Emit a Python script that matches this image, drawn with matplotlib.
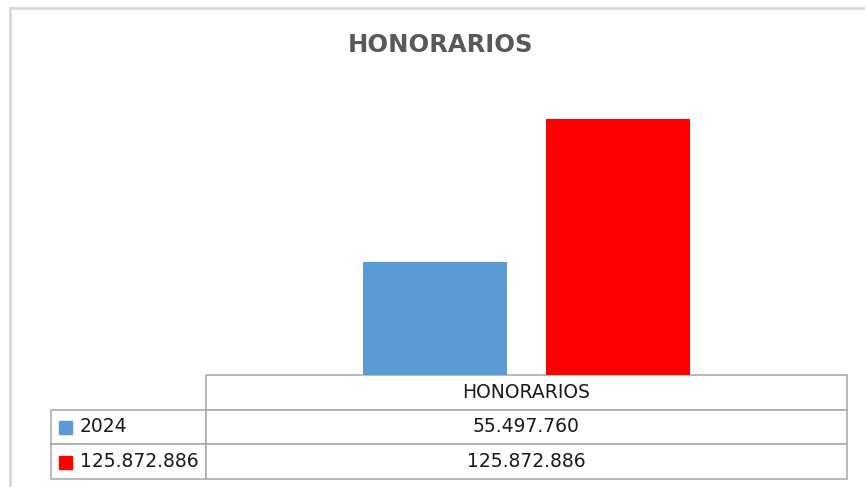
import matplotlib
matplotlib.use('Agg')
import matplotlib.pyplot as plt
from matplotlib.table import Table
from matplotlib.patches import Rectangle
from matplotlib.lines import Line2D

# chart data
category = 'HONORARIOS'
series_names = ['2024', '125.872.886']
values = [55497760, 125872886]
value_labels = ['55.497.760', '125.872.886']
colors = ['#5B9BD5', '#FF0000']

W, H = 865, 487
fig = plt.figure(figsize=(W / 100, H / 100), dpi=100)

# plot area in pixels: x 206..847, baseline at y=375
y_max = 140000000
ax_top = 375 - 256 * y_max / 125872886
ax = fig.add_axes([206 / W, (H - 375) / H, 641 / W, (375 - ax_top) / H])

offsets = [-0.1425, 0.1425]
for i in range(len(values)):
    ax.bar(offsets[i], values[i], width=0.225, color=colors[i])
ax.set_xlim(-0.5, 0.5)
ax.set_ylim(0, y_max)
ax.axis('off')

# data table under the bars
bh = 104 / (375 - ax_top)
tab = Table(ax, bbox=[-155 / 641, -bh, 796 / 641, bh])
w_lab = 155 / 796
w_dat = 641 / 796
edge = '#a6a6a6'

c = tab.add_cell(0, 0, w_lab, 1 / 3, text='')
c.visible_edges = ''
c = tab.add_cell(0, 1, w_dat, 1 / 3, text=category, loc='center')
c.set_edgecolor(edge)
for r in range(len(series_names)):
    c = tab.add_cell(r + 1, 0, w_lab, 1 / 3, text=series_names[r], loc='left')
    c.PAD = 29 / 155
    c.set_edgecolor(edge)
    c = tab.add_cell(r + 1, 1, w_dat, 1 / 3, text=value_labels[r], loc='center')
    c.set_edgecolor(edge)
tab.auto_set_font_size(False)
for key, cell in tab.get_celld().items():
    cell.get_text().set_fontsize(13.5)
    cell.get_text().set_color('#1a1a1a')
    cell.set_linewidth(1.1)
ax.add_table(tab)

# legend keys in the row labels
row_y = [427.5, 462]
for i in range(len(series_names)):
    fig.add_artist(Rectangle((59 / W, (H - row_y[i] - 6.5) / H), 13 / W, 13 / H,
                             transform=fig.transFigure, color=colors[i]))

# title
fig.text(441 / W, (H - 45.5) / H, 'HONORARIOS', ha='center', va='center',
         fontsize=17.5, fontweight='bold', color='#595959')

# chart frame (cut off right and bottom)
fig.add_artist(Line2D([10 / W, 1], [(H - 7.5) / H, (H - 7.5) / H],
                      transform=fig.transFigure, color='#d9d9d9', lw=2))
fig.add_artist(Line2D([10 / W, 10 / W], [0, (H - 7.5) / H],
                      transform=fig.transFigure, color='#d9d9d9', lw=2))

fig.savefig('out.png', dpi=100)
